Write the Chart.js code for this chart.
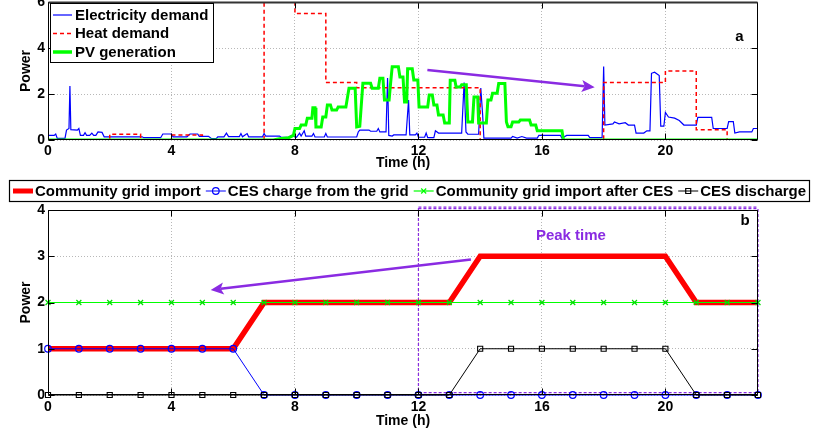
<!DOCTYPE html>
<html><head><meta charset="utf-8">
<script src="https://cdn.jsdelivr.net/npm/chart.js@4.4.1/dist/chart.umd.min.js"></script>
<style>
html,body{margin:0;padding:0;background:#fff;width:814px;height:434px;overflow:hidden}
#ca{position:absolute;left:0;top:0}
#cb{position:absolute;left:0;top:175px}
</style></head><body>
<canvas id="ca" width="814" height="175"></canvas>
<canvas id="cb" width="814" height="259"></canvas>
<script>
// ---------- Panel a data ----------
const elecTime = [0,0.2,0.25,0.3,0.55,0.6,0.68,0.71,0.74,0.95,1.0,1.05,1.15,1.2,1.25,1.35,1.42,1.48,1.55,1.62,1.75,1.82,3.05,3.1,3.65,3.72,4.0,4.05,4.5,4.6,4.85,4.9,5.2,5.3,5.45,5.5,5.7,5.78,5.85,6.2,6.25,6.3,6.45,6.5,6.95,7.0,7.05,7.5,7.55,7.8,7.9,8.05,8.15,8.2,8.3,8.35,8.55,8.6,8.65,8.95,9.0,9.05,10.0,10.05,10.1,10.4,10.45,10.65,10.7,10.75,10.95,11.0,11.04,11.15,11.2,11.6,11.68,11.72,11.9,11.95,12.0,12.2,12.25,12.3,12.5,12.55,12.65,13.4,13.48,13.54,13.6,13.95,14.02,14.08,14.12,15.0,15.05,15.2,15.35,15.5,15.85,15.9,16.6,16.65,16.8,17.5,17.55,17.95,18.0,18.04,18.3,18.35,18.5,18.7,18.8,19.0,19.05,19.3,19.4,19.5,19.55,19.65,19.8,19.85,19.95,20.0,20.1,20.3,20.45,20.6,21.0,21.05,21.5,21.55,22.0,22.05,22.2,22.25,22.4,22.8,22.85,23.0];
const elecPower = [0.2,0.2,0.26,0.07,0.07,0.43,0.5,2.35,0.45,0.43,0.5,0.2,0.2,0.32,0.2,0.2,0.3,0.2,0.2,0.35,0.33,0.14,0.14,0.1,0.1,0.26,0.26,0.14,0.14,0.26,0.26,0.16,0.16,0.06,0.06,0.14,0.14,0.3,0.15,0.15,0.28,0.14,0.28,0.14,0.14,0.28,0.17,0.17,0.12,0.12,0.2,0.12,0.3,0.17,0.4,0.17,0.17,0.28,0.13,0.13,0.28,0.13,0.13,0.35,0.43,0.43,0.38,0.38,0.5,0.35,0.35,2.7,0.2,0.17,0.22,0.22,1.74,0.22,0.22,0.3,0.12,0.12,0.3,0.1,0.1,0.4,0.3,0.3,2.5,0.35,0.25,0.25,2.26,1.1,0.08,0.08,0.15,0.08,0.15,0.08,0.08,0.2,0.2,0.08,0.2,0.2,0.1,0.1,3.2,0.65,0.7,0.78,0.7,0.75,0.65,0.65,0.3,0.3,0.4,0.4,2.9,2.95,2.8,0.6,0.6,1.2,1.0,0.95,0.85,0.65,0.65,0.98,0.98,0.5,0.5,0.8,0.8,0.3,0.35,0.35,0.5,0.5];

const heatTime  = [0,2,3,4,5,7,8,9,10,14,18,20,21,22,23];
const heatPower = [0,0.25,0,0.22,0,6,5.5,2.5,2.27,0,2.5,3.0,0.45,0,0];

const pvTime = [0,7.3,7.5,7.8,7.95,8.0,8.15,8.2,8.35,8.4,8.55,8.58,8.65,8.68,8.85,8.9,9.0,9.05,9.15,9.2,9.35,9.4,9.65,9.75,9.95,10.0,10.1,10.2,10.45,10.5,10.7,10.75,10.85,10.9,11.05,11.1,11.15,11.35,11.4,11.5,11.55,11.62,11.65,11.8,11.85,11.98,12.02,12.3,12.35,12.45,12.5,12.6,12.65,12.8,12.85,13.0,13.03,13.18,13.22,13.35,13.4,13.55,13.6,13.75,13.8,13.92,13.95,14.2,14.25,14.35,14.4,14.55,14.6,14.8,14.85,14.9,15.0,15.05,15.25,15.3,15.6,15.65,15.8,15.85,16.65,16.7,23];
const pvPower = [0,0,0.05,0.1,0.2,0.5,0.5,0.65,0.65,0.95,0.95,1.4,1.4,0.57,0.57,1.0,1.0,1.52,1.52,1.3,1.3,1.44,1.44,2.25,2.25,0.57,0.6,2.47,2.47,2.25,2.25,2.68,2.68,1.74,1.74,2.5,3.18,3.18,2.74,2.74,1.65,1.65,3.1,3.1,2.61,2.61,1.44,1.44,1.96,1.96,1.52,1.52,1.09,1.09,0.74,0.74,2.6,2.6,2.3,2.3,2.4,2.4,0.78,0.78,1.87,1.87,0.74,0.74,1.74,1.74,2.03,2.03,2.46,2.46,0.78,0.58,0.58,0.78,0.78,0.87,0.87,0.65,0.65,0.4,0.4,0,0];

// ---------- Panel b data ----------
const hours         = [0,1,2,3,4,5,6,7,8,9,10,11,12,13,14,15,16,17,18,19,20,21,22,23];
const gridImport    = [1,1,1,1,1,1,1,2,2,2,2,2,2,2,3,3,3,3,3,3,3,2,2,2];
const cesCharge     = [1,1,1,1,1,1,1,0,0,0,0,0,0,0,0,0,0,0,0,0,0,0,0,0];
const gridAfterCES  = [2,2,2,2,2,2,2,2,2,2,2,2,2,2,2,2,2,2,2,2,2,2,2,2];
const cesDischarge  = [0,0,0,0,0,0,0,0,0,0,0,0,0,0,1,1,1,1,1,1,1,0,0,0];

// tick settings and annotations (data units)
const xTickStep = 4, xMax = 23;
const yMaxA = 6, yStepA = 2, yMaxB = 4, yStepB = 1;
const arrowA = [12.29, 3.04, 17.71, 2.29];
const arrowB = [13.7, 2.93, 5.27, 2.27];
const peakBox = [12, 0.05, 23, 4.03];
const peakLabel = [16.94, 3.44];

const FONT = "'Liberation Sans', Arial, Helvetica, sans-serif";
const PURPLE = '#8a2be2';
const pts = (xs, ys) => xs.map((t, i) => ({x: t, y: ys[i]}));

function xScale(extra){
  return Object.assign({
    type:'linear', min:0, max:xMax,
    ticks:{stepSize:xTickStep, includeBounds:false, color:'#000', font:{family:FONT,size:14,weight:'bold'}},
    grid:{color:'#b8b8b8', drawTicks:false, lineWidth:1},
    border:{display:false, dash:[1,2]},
  }, extra);
}
function yScale(max, step, extra){
  return Object.assign({
    min:0, max:max,
    ticks:{stepSize:step, padding:3, color:'#000', font:{family:FONT,size:14,weight:'bold'}},
    grid:{color:'#b8b8b8', drawTicks:false, lineWidth:1},
    border:{display:false, dash:[1,2]},
    title:{display:true, text:'Power', color:'#000', font:{family:FONT,size:14,weight:'bold'}, padding:{top:18,bottom:0}},
    afterFit(s){ s.width = 48; s.paddingTop = 0; s.paddingBottom = 0; }
  }, extra);
}

function drawFrame(chart, topW){
  const {ctx, chartArea:{left,right,top,bottom}, scales:{x,y}} = chart;
  const L = Math.round(left)+0.5, R = Math.round(right)-0.5, T = Math.round(top)+0.5, B = Math.round(bottom)-0.5;
  ctx.save();
  ctx.strokeStyle = '#000'; ctx.lineWidth = 1;
  ctx.beginPath();
  x.ticks.forEach(t => { const px = Math.round(x.getPixelForValue(t.value))+0.5;
    ctx.moveTo(px,B); ctx.lineTo(px,B-6); ctx.moveTo(px,T); ctx.lineTo(px,T+6); });
  y.ticks.forEach(t => { const py = Math.round(y.getPixelForValue(t.value))+0.5;
    ctx.moveTo(L,py); ctx.lineTo(L+6,py); ctx.moveTo(R,py); ctx.lineTo(R-6,py); });
  ctx.stroke();
  ctx.beginPath();
  ctx.moveTo(L,T); ctx.lineTo(L,B); ctx.lineTo(R,B); ctx.lineTo(R,T);
  ctx.stroke();
  ctx.lineWidth = topW; ctx.strokeStyle = topW > 1 ? '#333' : '#000';
  ctx.beginPath(); ctx.moveTo(L,T); ctx.lineTo(R,T); ctx.stroke();
  ctx.restore();
}
function drawArrow(chart, a){
  const {ctx, scales:{x,y}} = chart;
  const x1 = x.getPixelForValue(a[0]), y1 = y.getPixelForValue(a[1]);
  const x2 = x.getPixelForValue(a[2]), y2 = y.getPixelForValue(a[3]);
  const ang = Math.atan2(y2-y1, x2-x1), hl = 13, hw = 6;
  const bx = x2 - hl*Math.cos(ang), by = y2 - hl*Math.sin(ang);
  ctx.save();
  ctx.strokeStyle = PURPLE; ctx.fillStyle = PURPLE; ctx.lineWidth = 2.5;
  ctx.beginPath(); ctx.moveTo(x1,y1); ctx.lineTo(bx+3*Math.cos(ang),by+3*Math.sin(ang)); ctx.stroke();
  ctx.beginPath(); ctx.moveTo(x2,y2);
  ctx.lineTo(bx + hw*Math.sin(ang), by - hw*Math.cos(ang));
  ctx.lineTo(bx + 3*Math.cos(ang), by + 3*Math.sin(ang));
  ctx.lineTo(bx - hw*Math.sin(ang), by + hw*Math.cos(ang));
  ctx.closePath(); ctx.fill();
  ctx.restore();
}
function marker(ctx, kind, cx, cy, color){
  ctx.save(); ctx.strokeStyle = color; ctx.lineWidth = 1.2; ctx.setLineDash([]);
  ctx.beginPath();
  if (kind === 'circle') ctx.arc(cx, cy, 3.3, 0, Math.PI*2);
  else if (kind === 'x') { ctx.moveTo(cx-2.5,cy-2.5); ctx.lineTo(cx+2.5,cy+2.5); ctx.moveTo(cx+2.5,cy-2.5); ctx.lineTo(cx-2.5,cy+2.5); }
  else if (kind === 'rect') ctx.rect(cx-2.5, cy-2.5, 5, 5);
  ctx.stroke(); ctx.restore();
}

// ---------- Chart a ----------
const pluginA = {
  id:'decorA',
  afterDatasetsDraw(chart){
    const {ctx, scales:{x,y}} = chart;
    drawFrame(chart, 2);
    drawArrow(chart, arrowA);
    ctx.save();
    ctx.font = 'bold 15px ' + FONT; ctx.fillStyle = '#000'; ctx.textAlign = 'center'; ctx.textBaseline = 'middle';
    ctx.fillText('a', x.getPixelForValue(22.4), y.getPixelForValue(4.48));
    // legend box
    ctx.fillStyle = '#fff'; ctx.fillRect(50, 3, 163, 59);
    ctx.strokeStyle = '#000'; ctx.lineWidth = 1; ctx.strokeRect(50.5, 3.5, 163, 59);
    const items = [
      {t:'Electricity demand', c:'#0000ff', w:1.2, d:[]},
      {t:'Heat demand', c:'#ff0000', w:1.5, d:[4,3]},
      {t:'PV generation', c:'#00ff00', w:3.5, d:[]}
    ];
    const rows = [15, 33.5, 52];
    items.forEach((it, i) => {
      ctx.beginPath(); ctx.strokeStyle = it.c; ctx.lineWidth = it.w; ctx.setLineDash(it.d);
      ctx.moveTo(53, rows[i]); ctx.lineTo(72, rows[i]); ctx.stroke(); ctx.setLineDash([]);
      ctx.fillStyle = '#000'; ctx.textAlign = 'left'; ctx.textBaseline = 'middle';
      ctx.fillText(it.t, 75, rows[i]+0.5);
    });
    ctx.restore();
  }
};
new Chart(document.getElementById('ca'), {
  type:'line',
  data:{datasets:[
    {label:'Electricity demand', data:pts(elecTime, elecPower), borderColor:'#0000ff', borderWidth:1.2, pointRadius:0, order:3},
    {label:'Heat demand', data:pts(heatTime, heatPower), borderColor:'#ff0000', borderWidth:1.5, borderDash:[4,3], stepped:'before', pointRadius:0, order:2},
    {label:'PV generation', data:pts(pvTime, pvPower), borderColor:'#00ff00', borderWidth:3, pointRadius:0, order:1}
  ]},
  options:{
    responsive:false, animation:false, events:[], devicePixelRatio:1,
    layout:{padding:{left:0, top:2, right:56, bottom:0}},
    plugins:{legend:{display:false}, tooltip:{enabled:false}},
    scales:{
      x: xScale({
        ticks:{stepSize:xTickStep, includeBounds:false, padding:3, color:'#000', font:{family:FONT,size:14,weight:'bold'}},
        title:{display:true, text:'Time (h)', color:'#000', font:{family:FONT,size:14,weight:'bold'}, padding:{top:0,bottom:3.6}},
        afterFit(s){ s.height = 35; s.paddingLeft = 0; s.paddingRight = 0; }
      }),
      y: yScale(yMaxA, yStepA, {})
    }
  },
  plugins:[pluginA]
});

// ---------- Chart b ----------
const pluginB = {
  id:'decorB',
  beforeDatasetsDraw(chart){
    const {ctx, scales:{x,y}} = chart;
    ctx.save();
    ctx.strokeStyle = PURPLE; ctx.lineWidth = 1.2; ctx.setLineDash([3,2]);
    const x1 = x.getPixelForValue(peakBox[0]), y1 = y.getPixelForValue(peakBox[1]);
    const x2 = x.getPixelForValue(peakBox[2]), y2 = y.getPixelForValue(peakBox[3]);
    ctx.strokeRect(x1, y2, x2-x1, y1-y2);
    ctx.restore();
  },
  afterDatasetsDraw(chart){
    const {ctx, scales:{x,y}} = chart;
    drawFrame(chart, 1);
    ctx.save();
    ctx.strokeStyle = PURPLE; ctx.lineWidth = 1.2; ctx.setLineDash([3,2]);
    const bx1 = x.getPixelForValue(peakBox[0]), by2 = y.getPixelForValue(peakBox[3]);
    ctx.beginPath(); ctx.moveTo(bx1, by2-1.5); ctx.lineTo(x.getPixelForValue(peakBox[2]), by2-1.5); ctx.stroke();
    ctx.restore();
    drawArrow(chart, arrowB);
    ctx.save();
    ctx.font = 'bold 15px ' + FONT; ctx.textAlign = 'center'; ctx.textBaseline = 'middle';
    ctx.fillStyle = PURPLE;
    ctx.fillText('Peak time', x.getPixelForValue(peakLabel[0]), y.getPixelForValue(peakLabel[1]));
    ctx.fillStyle = '#000';
    ctx.fillText('b', x.getPixelForValue(22.58), y.getPixelForValue(3.76));
    // legend row
    ctx.fillStyle = '#fff'; ctx.fillRect(9, 5, 801, 21);
    ctx.strokeStyle = '#000'; ctx.lineWidth = 1.2; ctx.strokeRect(9.5, 5.5, 800, 21);
    const items = [
      {t:'Community grid import', c:'#ff0000', w:5, m:null},
      {t:'CES charge from the grid', c:'#0000ff', w:1, m:'circle'},
      {t:'Community grid import after CES', c:'#00ff00', w:1.2, m:'x'},
      {t:'CES discharge', c:'#000000', w:1, m:'rect'}
    ];
    const cy = 16;
    let px = 13;
    items.forEach(it => {
      ctx.beginPath(); ctx.strokeStyle = it.c; ctx.lineWidth = it.w;
      ctx.moveTo(px, cy); ctx.lineTo(px+20, cy); ctx.stroke();
      if (it.m) marker(ctx, it.m, px+10, cy, it.c);
      ctx.fillStyle = '#000'; ctx.textAlign = 'left'; ctx.textBaseline = 'middle';
      ctx.fillText(it.t, px+22, cy+0.5);
      px = px + 22 + ctx.measureText(it.t).width + 5;
    });
    ctx.restore();
  }
};
new Chart(document.getElementById('cb'), {
  type:'line',
  data:{datasets:[
    {label:'Community grid import', data:pts(hours, gridImport), borderColor:'#ff0000', borderWidth:5.5, pointRadius:0, order:4, clip:false},
    {label:'CES charge from the grid', data:pts(hours, cesCharge), borderColor:'#0000ff', borderWidth:1, pointStyle:'circle', pointRadius:3.3, pointBorderColor:'#0000ff', pointBackgroundColor:'rgba(0,0,0,0)', pointBorderWidth:1.2, order:3, clip:false},
    {label:'Community grid import after CES', data:pts(hours, gridAfterCES), borderColor:'#00ff00', borderWidth:1.2, pointStyle:'crossRot', pointRadius:3.5, pointBorderColor:'#00dd00', pointBorderWidth:1.2, order:2, clip:false},
    {label:'CES discharge', data:pts(hours, cesDischarge), borderColor:'#000000', borderWidth:1, pointStyle:'rect', pointRadius:3.6, pointBorderColor:'#000', pointBackgroundColor:'rgba(0,0,0,0)', pointBorderWidth:1.1, order:1, clip:false}
  ]},
  options:{
    responsive:false, animation:false, events:[], devicePixelRatio:1,
    layout:{padding:{left:0, top:35, right:56, bottom:0}},
    plugins:{legend:{display:false}, tooltip:{enabled:false}},
    scales:{
      x: xScale({
        ticks:{stepSize:xTickStep, includeBounds:false, padding:4, color:'#000', font:{family:FONT,size:14,weight:'bold'}},
        title:{display:true, text:'Time (h)', color:'#000', font:{family:FONT,size:14,weight:'bold'}, padding:{top:0,bottom:4.6}},
        afterFit(s){ s.height = 39; s.paddingLeft = 0; s.paddingRight = 0; }
      }),
      y: yScale(yMaxB, yStepB, {})
    }
  },
  plugins:[pluginB]
});
</script>
</body></html>
